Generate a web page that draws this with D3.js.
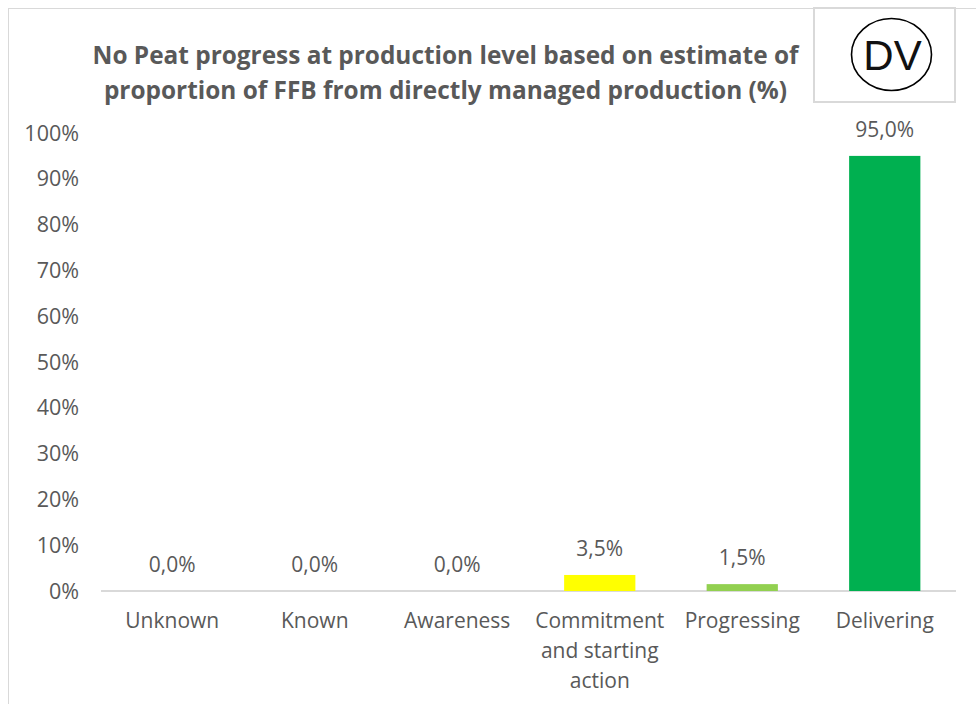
<!DOCTYPE html>
<html><head><meta charset="utf-8"><script src="https://cdn.jsdelivr.net/npm/d3@7/dist/d3.min.js"></script>
<style>html,body{margin:0;background:#fff}svg{display:block}text{font-family:"Open Sans",sans-serif}</style></head>
<body><svg id="c" width="976" height="704"></svg>
<script>
const categories=[["Unknown"],["Known"],["Awareness"],["Commitment","and starting","action"],["Progressing"],["Delivering"]];
const values=[0,0,0,3.5,1.5,95];
const labels=["0,0%","0,0%","0,0%","3,5%","1,5%","95,0%"];
const colors=["#fff","#fff","#fff","#ffff00","#92d050","#00b050"];
const ticks=[0,10,20,30,40,50,60,70,80,90,100];
const titleLines=["No Peat progress at production level based on estimate of","proportion of FFB from directly managed production (%)"];
const svg=d3.select("#c");
svg.append("rect").attr("x",8.5).attr("y",8.5).attr("width",968).attr("height",700).attr("fill","#fff").attr("stroke","#d9d9d9");
const x=d3.scaleBand().domain(d3.range(6)).range([101,956]).paddingInner(0.5).paddingOuter(0.25);
const y=d3.scaleLinear().domain([0,100]).range([591,133]);
const tc="#595959";
const fs=21;
ticks.forEach(t=>svg.append("text").attr("x",79).attr("y",y(t)+7.5).attr("text-anchor","end").attr("font-size",21.5).attr("fill",tc).text(t+"%"));
svg.append("line").attr("x1",101).attr("x2",956).attr("y1",591).attr("y2",591).attr("stroke","#d9d9d9").attr("stroke-width",2);
values.forEach((v,i)=>{
 if(v>0)svg.append("rect").attr("x",x(i)).attr("y",y(v)).attr("width",x.bandwidth()).attr("height",y(0)-y(v)).attr("fill",colors[i]);
 svg.append("text").attr("x",x(i)+x.bandwidth()/2).attr("y",y(v)-19).attr("text-anchor","middle").attr("font-size",fs).attr("fill",tc).text(labels[i]);
 categories[i].forEach((l,j)=>svg.append("text").attr("x",x(i)+x.bandwidth()/2).attr("y",628+j*30).attr("text-anchor","middle").attr("font-size",fs).attr("fill",tc).text(l));
});
titleLines.forEach((l,j)=>svg.append("text").attr("x",445.5).attr("y",64+j*35).attr("text-anchor","middle").attr("font-size",24.4).attr("font-weight",700).attr("fill",tc).text(l));
svg.append("rect").attr("x",814).attr("y",8).attr("width",141).attr("height",94).attr("fill","#fff").attr("stroke","#d9d9d9").attr("stroke-width",2);
svg.append("ellipse").attr("cx",891.5).attr("cy",54.5).attr("rx",40).attr("ry",36).attr("fill","#fff").attr("stroke","#000").attr("stroke-width",1.6);
svg.append("text").attr("x",892.5).attr("y",70).attr("text-anchor","middle").attr("font-size",42).attr("fill","#111").style("font-family","Liberation Sans").text("DV");
</script></body></html>
